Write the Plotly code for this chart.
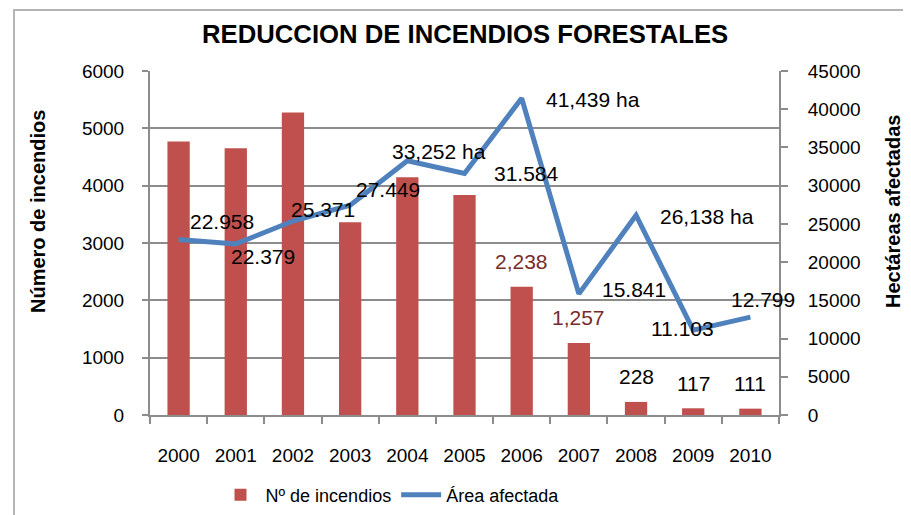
import plotly.graph_objects as go

# ---- data ----
years = ["2000", "2001", "2002", "2003", "2004", "2005", "2006", "2007", "2008", "2009", "2010"]
incendios = [4770, 4654, 5276, 3363, 4148, 3839, 2238, 1257, 228, 117, 111]
area = [22958, 22379, 25371, 27449, 33252, 31584, 41439, 15841, 26138, 11103, 12799]
area_labels = ["22.958", "22.379", "25.371", "27.449", "33,252 ha", "31.584",
               "41,439 ha", "15.841", "26,138 ha", "11.103", "12.799"]
incendios_labels = ["", "", "", "", "", "", "2,238", "1,257", "228", "117", "111"]
left_ticks = [0, 1000, 2000, 3000, 4000, 5000, 6000]
right_ticks = [0, 5000, 10000, 15000, 20000, 25000, 30000, 35000, 40000, 45000]

# ---- styles ----
FONT = "Liberation Sans"
BAR_COLOR = "#C0504D"
LINE_COLOR = "#4F81BD"
GRID = "#8C8C8C"
area_label_offsets = [(43, -18), (27, 13), (30, -12), (38, -16), (32, -9), (62, 0),
                      (71, 1), (55, -4), (71, 1), (-11, -2), (13, -18)]
bar_label_colors = ["#000"] * 6 + ["#772C2A", "#772C2A", "#000", "#000", "#000"]

OFF = 8  # page body margin
W, H = 911 - OFF, 515 - OFF
# plot area in screen pixels
SX0, SX1, SY0, SY1 = 150, 779, 71, 415
L, R, T, B = SX0 - OFF, W - (SX1 - OFF), SY0 - OFF, H - (SY1 - OFF)

fig = go.Figure()
fig.add_trace(go.Bar(x=years, y=incendios, name="Nº de incendios",
                     marker=dict(color=BAR_COLOR, line=dict(width=0)),
                     width=0.39, yaxis="y"))
fig.add_trace(go.Scatter(x=years, y=area, name="Área afectada", mode="lines",
                         line=dict(color=LINE_COLOR, width=5), yaxis="y2"))

ann = []
for i, (v, t, (dx, dy)) in enumerate(zip(area, area_labels, area_label_offsets)):
    ann.append(dict(x=i, y=v, xref="x", yref="y2", text=t, showarrow=False,
                    xanchor="center", yanchor="middle",
                    xshift=dx, yshift=-dy, font=dict(family=FONT, size=21, color="#000")))
for i, (v, t, c) in enumerate(zip(incendios, incendios_labels, bar_label_colors)):
    if t:
        ann.append(dict(x=i, y=v, xref="x", yref="y", text=t, showarrow=False,
                        xanchor="center", yanchor="middle",
                        xshift=0, yshift=25, font=dict(family=FONT, size=21, color=c)))

pw, ph = SX1 - SX0, SY1 - SY0
def px(xs):
    return (xs - SX0) / pw
def py(ys):
    return (SY1 - ys) / ph

ann.append(dict(x=px(465), y=py(34), xref="paper", yref="paper", showarrow=False,
                xanchor="center", yanchor="middle",
                text="<b>REDUCCION DE INCENDIOS FORESTALES</b>",
                font=dict(family=FONT, size=25.7, color="#000")))
ann.append(dict(x=px(38), y=py(212), xref="paper", yref="paper", showarrow=False,
                xanchor="center", yanchor="middle",
                text="<b>Número de incendios</b>", textangle=-90,
                font=dict(family=FONT, size=20, color="#000")))
ann.append(dict(x=px(893), y=py(212), xref="paper", yref="paper", showarrow=False,
                xanchor="center", yanchor="middle",
                text="<b>Hectáreas afectadas</b>", textangle=-90,
                font=dict(family=FONT, size=20, color="#000")))

fig.update_layout(
    width=W, height=H, autosize=False,
    margin=dict(l=L, r=R, t=T, b=B, pad=0, autoexpand=False),
    paper_bgcolor="white", plot_bgcolor="white",
    font=dict(family=FONT, size=19, color="#000"),
    showlegend=True,
    legend=dict(orientation="h", x=px(390), xanchor="center", y=py(495), yanchor="middle",
                font=dict(family=FONT, size=18), traceorder="normal",
                itemwidth=40),
    annotations=ann,
    shapes=[dict(type="rect", xref="paper", yref="paper",
                 x0=px(14), y0=py(560), x1=px(960), y1=py(10),
                 line=dict(color="#B4B4B4", width=2), layer="below")],
    xaxis=dict(type="category", range=[-0.5, 10.5], showline=True, linecolor=GRID, linewidth=2,
               ticks="outside", tickson="boundaries", ticklen=7, tickcolor=GRID, tickwidth=2,
               ticklabelstandoff=22, showgrid=False, zeroline=False,
               tickfont=dict(family=FONT, size=19, color="#000")),
    yaxis=dict(range=[0, 6000], tickvals=left_ticks, showline=True, linecolor=GRID, linewidth=2,
               ticks="outside", ticklen=6, tickcolor=GRID, tickwidth=2,
               showgrid=True, gridcolor=GRID, gridwidth=2, zeroline=False,
               ticklabelstandoff=14, tickformat="d",
               tickfont=dict(family=FONT, size=19, color="#000")),
    yaxis2=dict(range=[0, 45000], tickvals=right_ticks, overlaying="y", side="right",
                showline=True, linecolor=GRID, linewidth=2,
                ticks="outside", ticklen=7, tickcolor=GRID, tickwidth=2,
                showgrid=False, zeroline=False, ticklabelstandoff=16, tickformat="d",
                tickfont=dict(family=FONT, size=19, color="#000")),
)

fig.write_html("out.html")
